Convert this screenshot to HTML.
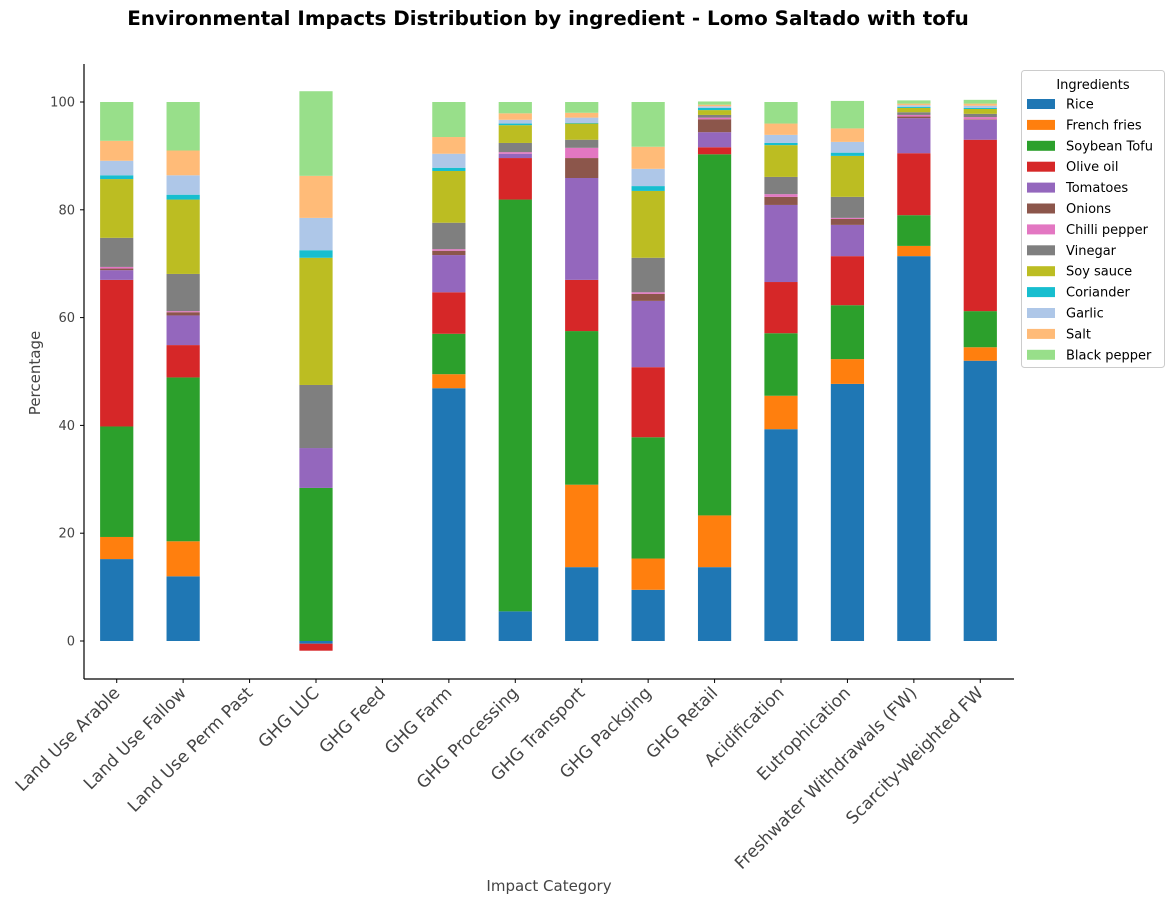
<!DOCTYPE html>
<html><head><meta charset="utf-8">
<style>
body{margin:0;background:#fff;}
svg{display:block;font-family:"DejaVu Sans","Liberation Sans",sans-serif;}
</style></head>
<body>
<svg id="chart" width="1173" height="903" viewBox="0 0 1173 903" xmlns="http://www.w3.org/2000/svg">
<text x="548" y="25" text-anchor="middle" font-size="19.9" font-weight="bold" fill="#000">Environmental Impacts Distribution by ingredient - Lomo Saltado with tofu</text>
<g id="marks"></g>
<g id="axes"></g>
<text x="0" y="0" transform="translate(40,373) rotate(-90)" text-anchor="middle" font-size="15" fill="#444">Percentage</text>
<text x="549" y="891" text-anchor="middle" font-size="15" fill="#444">Impact Category</text>
<g id="legend"></g>
</svg>
<script>
const categories = ["Land Use Arable","Land Use Fallow","Land Use Perm Past","GHG LUC","GHG Feed","GHG Farm","GHG Processing","GHG Transport","GHG Packging","GHG Retail","Acidification","Eutrophication","Freshwater Withdrawals (FW)","Scarcity-Weighted FW"];
const ingredients = ["Rice","French fries","Soybean Tofu","Olive oil","Tomatoes","Onions","Chilli pepper","Vinegar","Soy sauce","Coriander","Garlic","Salt","Black pepper"];
const colors = ["#1f77b4","#ff7f0e","#2ca02c","#d62728","#9467bd","#8c564b","#e377c2","#7f7f7f","#bcbd22","#17becf","#aec7e8","#ffbb78","#98df8a"];
const rice        = [15.2,12.0,0,-0.5,0,46.9,5.5,13.7,9.5,13.7,39.3,47.7,71.4,52.0];
const frenchFries = [4.1,6.5,0,0,0,2.6,0,15.3,5.8,9.6,6.2,4.6,1.9,2.5];
const soybeanTofu = [20.5,30.4,0,28.4,0,7.5,76.4,28.5,22.5,67.0,11.6,10.0,5.7,6.7];
const oliveOil    = [27.2,6.0,0,-1.3,0,7.7,7.7,9.5,13.0,1.3,9.5,9.1,11.5,31.8];
const tomatoes    = [1.8,5.5,0,7.4,0,6.9,0.8,18.9,12.3,2.8,14.3,5.8,6.5,3.7];
const onions      = [0.3,0.6,0,0,0,0.8,0,3.7,1.3,2.4,1.5,1.1,0.3,0.1];
const chilli      = [0.3,0.2,0,0,0,0.3,0.3,1.9,0.3,0.3,0.5,0.2,0.3,0.4];
const vinegar     = [5.4,6.9,0,11.7,0,4.9,1.7,1.5,6.4,0.5,3.2,3.9,0.5,0.6];
const soySauce    = [10.9,13.8,0,23.6,0,9.6,3.3,3.0,12.4,0.9,5.9,7.6,0.8,0.9];
const coriander   = [0.7,0.9,0,1.4,0,0.6,0.3,0.1,0.9,0.4,0.4,0.6,0.2,0.2];
const garlic      = [2.7,3.6,0,6.0,0,2.6,0.7,1.0,3.2,0.3,1.5,2.0,0.3,0.4];
const salt        = [3.7,4.6,0,7.8,0,3.1,1.2,0.9,4.1,0.3,2.1,2.5,0.3,0.4];
const blackPepper = [7.2,9.0,0,15.7,0,6.5,2.1,2.0,8.3,0.6,4.0,5.1,0.6,0.7];
const yTicks = [0,20,40,60,80,100];

const series = [rice,frenchFries,soybeanTofu,oliveOil,tomatoes,onions,chilli,vinegar,soySauce,coriander,garlic,salt,blackPepper];
const NS = "http://www.w3.org/2000/svg";
const L=84,R=1014,T=64,B=679,yMin=-7.05,yMax=107.05;
const y = v => B - (v - yMin)/(yMax - yMin)*(B - T);
const step = (R-L)/categories.length;
const xc = i => L + step*(i+0.5) - 0.5;
const bw = step*0.5;
function mk(tag, attrs, parent){const e=document.createElementNS(NS,tag);for(const k in attrs)e.setAttribute(k,attrs[k]);parent.appendChild(e);return e;}
const marks=document.getElementById('marks');
categories.forEach((c,i)=>{
  let pos=0,neg=0;
  series.forEach((s,j)=>{
    const v=s[i]; if(!v) return;
    let y0,y1;
    if(v>=0){y0=pos;y1=pos+v;pos=y1;}else{y0=neg;y1=neg+v;neg=y1;}
    const r=mk('rect',{x:xc(i)-bw/2,y:Math.min(y(y0),y(y1)),width:bw,height:Math.abs(y(y0)-y(y1)),fill:colors[j]},marks);
    
    
  });
});
const axes=document.getElementById('axes');
const ls=mk('line',{x1:L,y1:T,x2:L,y2:B,stroke:'#000','stroke-width':1.2},axes);


const bs=mk('line',{x1:L,y1:B,x2:R,y2:B,stroke:'#000','stroke-width':1.2},axes);


yTicks.forEach(t=>{
  mk('line',{x1:L-4,y1:y(t),x2:L,y2:y(t),stroke:'#000'},axes);
  const tx=mk('text',{x:L-9,y:y(t)+4.5,'text-anchor':'end','font-size':13,fill:'#444'},axes);
  tx.textContent=t;
  
  
});
categories.forEach((c,i)=>{
  const x=xc(i);
  mk('line',{x1:x,y1:B,x2:x,y2:B+4,stroke:'#000'},axes);
  const tx=mk('text',{x:0,y:0,'text-anchor':'end','font-size':17,fill:'#444',transform:`translate(${x+4},${B+15}) rotate(-45)`},axes);
  tx.textContent=c;
  
  
});
const lg=document.getElementById('legend');
const box=mk('rect',{x:1021.5,y:70.5,width:143,height:297,rx:3,fill:'#fff',stroke:'#ccc'},lg);


const lt=mk('text',{x:1093,y:89,'text-anchor':'middle','font-size':13,fill:'#000'},lg);
lt.textContent='Ingredients';


ingredients.forEach((n,j)=>{
  const yy=104+j*20.9;
  const g=mk('g',{},lg);
  
  
  mk('rect',{x:1027,y:yy-5,width:28,height:10,fill:colors[j]},g);
  const t=mk('text',{x:1066,y:yy+4.5,'font-size':13,fill:'#000'},g);
  t.textContent=n;
});
</script>
</body></html>
